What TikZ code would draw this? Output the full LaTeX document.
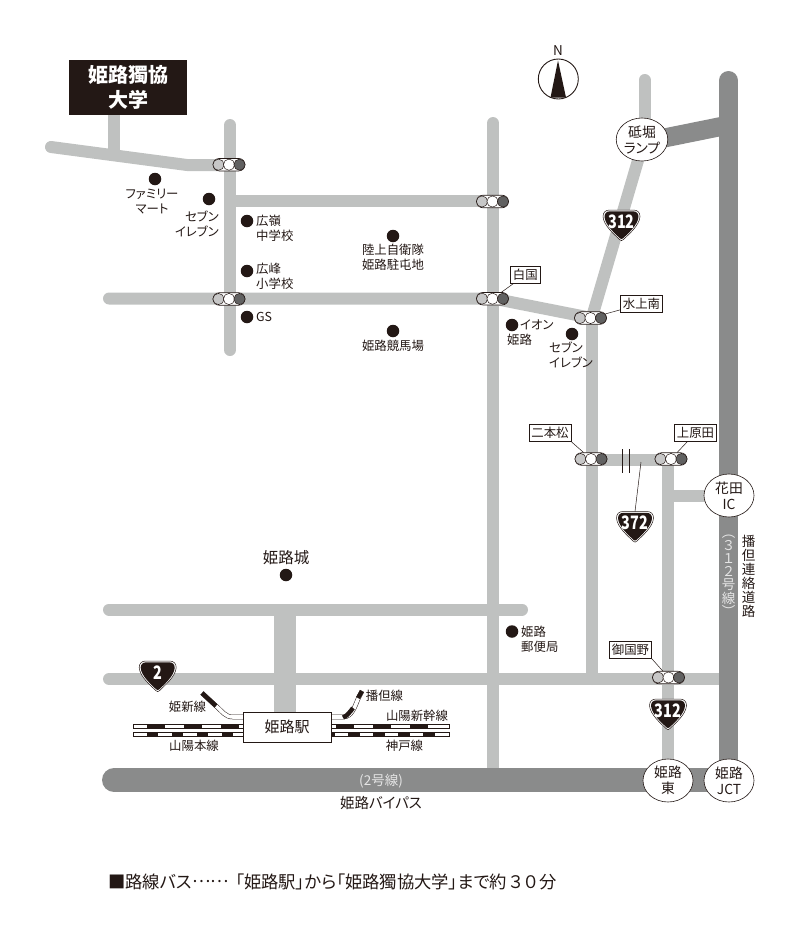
\documentclass[tikz,border=0pt]{standalone}
\usepackage{fontspec}
\setmainfont[RawFeature=+palt]{Noto Sans CJK JP}
\usetikzlibrary{shapes.geometric,shapes.misc}
\definecolor{ink}{HTML}{231815}
\definecolor{roadc}{HTML}{BFC1C0}
\definecolor{wayc}{HTML}{8A8B8B}
\tikzset{
  road/.style={draw=roadc,line width=12pt},
  way/.style={draw=wayc,line width=19pt},
  spot/.style={circle,fill=ink,minimum size=12.5pt,inner sep=0pt},
  txt/.style={inner sep=0pt,text=ink,align=center,font=\fontsize{12.4}{15}\selectfont},
  ltxt/.style={txt,align=left,anchor=west},
  rtag/.style={txt,draw=ink,line width=.5pt,fill=white,inner xsep=2.5pt,minimum height=17pt},
  exitn/.style={ellipse,draw=ink,line width=.6pt,fill=white,inner sep=0pt,minimum width=50pt,minimum height=43pt,
    text=ink,align=center,font=\fontsize{13.8}{16}\selectfont},
  signal/.style={rounded rectangle,draw=ink,line width=.6pt,fill=white,inner sep=0pt,minimum width=32pt,minimum height=12.5pt},
  tick/.style={draw=ink,line width=.5pt},
  rail/.style={draw=ink,line width=.5pt,double=white,double distance=3.6pt},
  railbox/.style={draw=ink,line width=.5pt,fill=white},
  bar/.style={draw=ink,line width=4.4pt},
  pics/shield/.style={code={
    \draw[ink,fill=white,line width=.5pt] (-18.5,-9) .. controls (-18.5,-13) and (-16,-15.5) .. (-12,-15.5) -- (12,-15.5)
      .. controls (16,-15.5) and (18.5,-13) .. (18.5,-9) .. controls (18,0) and (7,9) .. (2,14)
      .. controls (1,15.5) and (-1,15.5) .. (-2,14) .. controls (-7,9) and (-18,0) .. (-18.5,-9) -- cycle;
    \fill[ink] (-17,-8.8) .. controls (-17,-12) and (-15,-14.2) .. (-11.5,-14.2) -- (11.5,-14.2)
      .. controls (15,-14.2) and (17,-12) .. (17,-8.8) .. controls (16.5,-0.5) and (6.5,8) .. (1.6,12.8)
      .. controls (0.8,13.8) and (-0.8,13.8) .. (-1.6,12.8) .. controls (-6.5,8) and (-16.5,-0.5) .. (-17,-8.8) -- cycle;
    \coordinate (-top) at (0,-15.5);
    \node[text=white,inner sep=0pt,xscale=.78,transform shape,font=\fontsize{18.5}{18.5}\bfseries\selectfont] (-num) at (0,-4) {#1};
  }}
}
\begin{document}
\begin{tikzpicture}[x=1pt,y=-1pt]
  \useasboundingbox (0,0) rectangle (800,937);

  % roads
  \foreach \xa/\ya/\xb/\yb in {230/125/230/350, 230/201/493/201, 493/123/493/770, 591.7/318/591.7/679,
    591.7/460/668/460, 668/460/668/770, 668/495.5/729/495.5, 644.5/80/644.5/140}
    \draw[road,line cap=round] (\xa,\ya) -- (\xb,\yb);
  \draw[road,line cap=round,line join=round] (51,147) -- (187,165) -- (230,165);
  \draw[road,line width=11.5pt] (114,115) -- (114,152);
  \draw[road,line cap=round,line join=round] (109,298.5) -- (493,298.5) -- (591.7,318) -- (644,140);
  \draw[road,line cap=round] (109,609.5) -- (522,609.5);
  \draw[road,line cap=round] (109,679) -- (728,679);
  \draw[road,line width=22pt] (285,609.5) -- (285,720);

  % expressway
  \draw[way] (642,142.5) -- (728.5,125);
  \draw[way,line cap=round] (728.5,80.5) -- (728.5,780);
  \draw[way,line width=24pt,line cap=round] (114,780) -- (728.5,780);

  % rails
  \foreach \xs/\xe in {133/243,330/449}{
    \draw[railbox] (\xs,724) rectangle (\xe,728.3);
    \draw[railbox] (\xs,732) rectangle (\xe,736.3);
  }
  \draw[bar,dash pattern=on 18pt off 19pt] (147,726.2) -- (243,726.2);
  \draw[bar,dash pattern=on 11pt off 14pt] (147,734.2) -- (243,734.2);
  \draw[bar,dash pattern=on 18pt off 19pt] (336,726.2) -- (440,726.2);
  \draw[bar,dash pattern=on 12pt off 13pt] (323,734.2) -- (440,734.2);
  \draw[rail] (243,717) -- (233,717) .. controls (225,717) and (222,711) .. (216,706) -- (202,693);
  \draw[bar] (202,693) -- (216,706);
  \draw[rail] (331,717) -- (343,717) .. controls (352,717) and (355,706) .. (358,699) -- (362,691);
  \draw[bar] (343,717.5) .. controls (347,716) and (350,712) .. (353,708);
  \draw[bar] (358,698) -- (362,691);

  \node[draw=ink,line width=.6pt,fill=white,minimum width=88pt,minimum height=30pt,inner sep=0pt,text=ink,
    font=\fontsize{15}{15}\selectfont] (station) at (287,727) {姫路駅};

  % bridge
  \draw[tick,line width=.7pt] (622,449) -- (622,473);
  \draw[tick,line width=.7pt] (629,449) -- (629,473);

  % university
  \node[fill=ink,text=white,minimum width=118pt,minimum height=55pt,inner sep=0pt,align=center,
    font=\fontsize{20}{25}\bfseries\selectfont] (univ) at (128,87.5) {姫路獨協\\大学};

  % north mark
  \fill[ink] (558,60.5) -- (550.5,97.5) -- (566,97.5) -- cycle;
  \node[circle,draw=ink,line width=.9pt,minimum size=40pt,inner sep=0pt] (north) at (558.3,79) {};
  \node[txt,font=\fontsize{13.5}{13.5}\selectfont] (northN) at (558,51) {N};

  % signals
  \foreach \n/\x/\y in {uni/229/164.7, hiro/229/299, top/492.5/201.5, shira/492.5/298.7, mina/590.5/318,
    nihon/591/459, ue/671/459, mi/668.5/677.5}{
    \node[signal] (sig\n) at (\x,\y) {};
    \draw[ink,line width=.5pt,fill=black!22] (\x-10.5,\y) circle (5.6);
    \draw[ink,line width=.5pt,fill=white] (\x,\y) circle (5.6);
    \draw[ink,line width=.5pt,fill=black!62] (\x+10.5,\y) circle (5.6);
  }

  % spots
  \foreach \n/\x/\y in {fami/155/179, sevA/209/199, korei/247/221, kohou/247/271, gs/247/317,
    jietai/393/236, keiba/393/331, castle/286/575, aeon/512/325, sevB/572/334, post/512/631.5}
    \node[spot] (d\n) at (\x,\y) {};

  % texts
  \node[txt] (tFami) at (152,202) {ファミリー\\マート};
  \node[txt,align=right,anchor=east] (tSevA) at (219,224) {セブン\\イレブン};
  \node[ltxt] (tKorei) at (256,228.5) {広嶺\\中学校};
  \node[ltxt] (tKohou) at (256,276.5) {広峰\\小学校};
  \node[ltxt] (tGs) at (256,317) {GS};
  \node[txt] (tJietai) at (393,257.5) {陸上自衛隊\\姫路駐屯地};
  \node[txt] (tKeiba) at (393,346) {姫路競馬場};
  \node[ltxt] (tAeonA) at (520,325) {イオン};
  \node[ltxt] (tAeonB) at (507,340) {姫路};
  \node[ltxt] (tSevB) at (549,355) {セブン\\イレブン};
  \node[ltxt] (tPost) at (521,639) {姫路\\郵便局};
  \node[txt,font=\fontsize{15.5}{15.5}\selectfont] (tCastle) at (286,558) {姫路城};
  \node[txt] (tKishin) at (187.5,707) {姫新線};
  \node[txt] (tHonsen) at (194,746) {山陽本線};
  \node[txt] (tBantan) at (384.5,696) {播但線};
  \node[txt] (tShinkan) at (417,716) {山陽新幹線};
  \node[txt] (tKobe) at (404.5,746) {神戸線};
  \node[txt,font=\fontsize{14.5}{14.5}\selectfont] (tBypass) at (381,802.5) {姫路バイパス};
  \node[txt,text=black!10,font=\fontsize{13.5}{15}\selectfont] (tNo2) at (381,781) {(2号線)};
  \node[txt,font=\fontsize{13.5}{13.9}\selectfont] (tRenraku) at (748.5,576.5) {播\\但\\連\\絡\\道\\路};
  \node[txt,text=black!10,font=\fontsize{13.5}{13.2}\selectfont] (tNo312) at (728.5,575.5) {︵\\３\\１\\２\\号\\線\\︶};

  % exits
  \node[exitn] (exTo) at (642,139.5) {砥堀\\ランプ};
  \node[exitn] (exHana) at (729,495.5) {花田\\IC};
  \node[exitn] (exHime) at (668,780.5) {姫路\\東};
  \node[exitn] (exJct) at (729,780.5) {姫路\\JCT};

  % signal tags
  \node[rtag] (lbShira) at (525.3,275) {白国};
  \node[rtag] (lbMina) at (641.5,304) {水上南};
  \node[rtag] (lbNihon) at (550,433) {二本松};
  \node[rtag] (lbUe) at (695.5,433) {上原田};
  \node[rtag] (lbMi) at (630.5,650) {御国野};
  \foreach \from/\to in {lbShira/sigshira,lbMina/sigmina,lbUe/sigue}
    \draw[tick] (\from) -- (\to);
  \draw[tick] (lbNihon.south east) -- (signihon);
  \draw[tick] (lbMi.south east) -- (sigmi);

  % route marks
  \pic (shA) at (621.5,225.5) {shield=312};
  \pic (shB) at (668,714.5) {shield=312};
  \pic (shC) at (635,527) {shield=372};
  \pic (shD) at (157.7,676.5) {shield=2};
  \coordinate (brg) at (641,462);
  \draw[tick] (brg) -- (shC-top);

  % bottom line
  \node[txt,anchor=west,font=\fontsize{17.3}{17.3}\selectfont] (bus) at (108,882)
    {■路線バス\raisebox{.33em}{……}\hspace{7pt}「姫路駅」から「姫路獨協大学」まで約\hspace{2pt}３\hspace{2pt}０\hspace{2pt}分};
\end{tikzpicture}
\end{document}
